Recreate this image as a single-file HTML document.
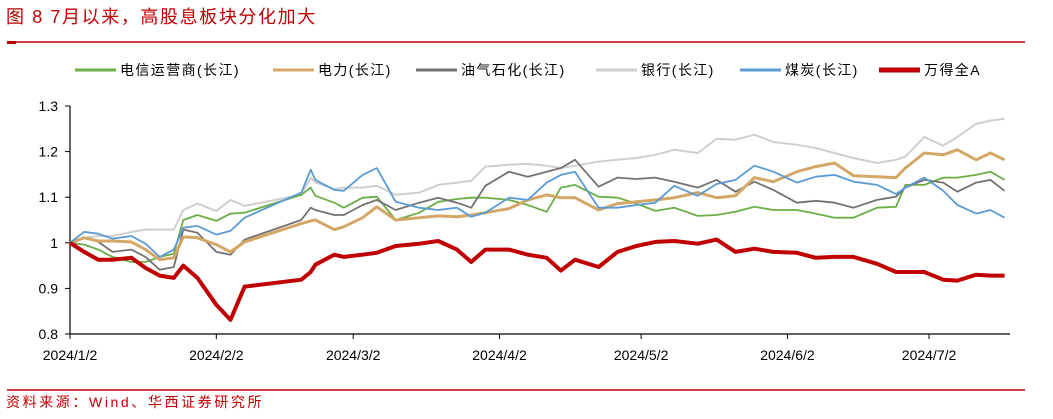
<!DOCTYPE html>
<html><head><meta charset="utf-8">
<style>
body{margin:0;background:#fff;width:1053px;height:414px;overflow:hidden;font-family:"Liberation Sans","Noto Sans CJK SC",sans-serif;}
</style></head>
<body>
<svg id="chart" width="1053" height="414" xmlns="http://www.w3.org/2000/svg" font-family="Liberation Sans, Noto Sans CJK SC, sans-serif">
<text x="6" y="23" font-size="18" letter-spacing="1.6" fill="#c00000">图 8 7月以来，高股息板块分化加大</text>
<line x1="7" y1="42" x2="1025" y2="42" stroke="#c00000" stroke-width="1.5"/>
<rect x="7" y="41" width="9" height="3" fill="#c00000"/>
<g id="legend" font-size="14" fill="#000"></g>
<g id="axes"></g>
<g id="series"></g>
<line x1="7" y1="390" x2="1025" y2="390" stroke="#c00000" stroke-width="1.5"/>
<text x="6" y="407" font-size="14" letter-spacing="2.6" fill="#c00000">资料来源：Wind、华西证券研究所</text>
</svg>
<script>
const days=[0,3,6,9,13,16,19,22,24,27,31,34,37,49,51,52,56,58,62,65,69,74,78,82,85,88,93,97,101,104,107,112,116,120,124,128,133,137,141,145,149,154,158,162,166,171,175,177,181,185,188,192,195,198];
const telecom=[1.000,0.996,0.985,0.969,0.958,0.958,0.969,0.976,1.050,1.061,1.048,1.064,1.066,1.105,1.121,1.103,1.088,1.077,1.099,1.101,1.050,1.066,1.090,1.096,1.099,1.099,1.094,1.083,1.068,1.121,1.127,1.101,1.099,1.086,1.070,1.077,1.059,1.061,1.068,1.079,1.072,1.072,1.064,1.055,1.055,1.077,1.079,1.127,1.127,1.143,1.143,1.149,1.156,1.138];
const power=[1.000,1.011,1.004,1.004,1.002,0.985,0.963,0.967,1.013,1.011,0.996,0.980,1.002,1.042,1.048,1.050,1.029,1.035,1.055,1.079,1.050,1.055,1.059,1.057,1.061,1.066,1.075,1.094,1.105,1.099,1.099,1.072,1.086,1.090,1.094,1.099,1.110,1.099,1.103,1.143,1.134,1.156,1.167,1.175,1.147,1.145,1.143,1.164,1.197,1.193,1.204,1.182,1.197,1.182];
const oil=[1.000,1.011,1.002,0.980,0.985,0.969,0.941,0.947,1.029,1.022,0.980,0.974,1.007,1.050,1.077,1.072,1.061,1.061,1.083,1.094,1.072,1.088,1.099,1.088,1.077,1.125,1.156,1.145,1.156,1.164,1.182,1.123,1.143,1.140,1.143,1.134,1.121,1.138,1.112,1.134,1.116,1.088,1.092,1.088,1.077,1.094,1.101,1.121,1.138,1.132,1.112,1.132,1.138,1.114];
const bank=[1.000,1.011,1.015,1.015,1.024,1.029,1.029,1.029,1.072,1.086,1.070,1.094,1.081,1.105,1.143,1.132,1.118,1.121,1.121,1.125,1.105,1.110,1.127,1.132,1.136,1.167,1.171,1.173,1.169,1.164,1.169,1.178,1.182,1.186,1.193,1.204,1.197,1.228,1.226,1.237,1.221,1.215,1.208,1.197,1.186,1.175,1.182,1.189,1.232,1.213,1.232,1.261,1.268,1.272];
const coal=[1.000,1.024,1.020,1.009,1.015,0.998,0.969,0.985,1.033,1.037,1.018,1.026,1.055,1.110,1.160,1.138,1.116,1.114,1.149,1.164,1.090,1.077,1.072,1.077,1.057,1.066,1.099,1.094,1.132,1.149,1.156,1.077,1.077,1.083,1.088,1.125,1.103,1.129,1.138,1.169,1.156,1.132,1.145,1.149,1.134,1.127,1.107,1.121,1.143,1.114,1.083,1.064,1.072,1.055];
const windA=[1.000,0.980,0.963,0.963,0.967,0.945,0.928,0.923,0.950,0.923,0.864,0.831,0.904,0.919,0.936,0.952,0.974,0.969,0.974,0.978,0.993,0.998,1.004,0.985,0.958,0.985,0.985,0.974,0.967,0.939,0.963,0.947,0.980,0.993,1.002,1.004,0.998,1.007,0.980,0.987,0.980,0.978,0.967,0.969,0.969,0.954,0.936,0.936,0.936,0.919,0.917,0.930,0.928,0.928];
const yTicks=[1.3,1.2,1.1,1,0.9,0.8];
const yTickLabels=["1.3","1.2","1.1","1","0.9","0.8"];
const xTickDays=[0,31,60,91,121,152,182];
const xTickLabels=["2024/1/2","2024/2/2","2024/3/2","2024/4/2","2024/5/2","2024/6/2","2024/7/2"];
const seriesNames=["电信运营商(长江)","电力(长江)","油气石化(长江)","银行(长江)","煤炭(长江)","万得全A"];

const NS="http://www.w3.org/2000/svg";
const X=d=>70+d*4.72;
const Y=v=>334-(v-0.8)*456;
function mk(tag,attrs,parent){const e=document.createElementNS(NS,tag);for(const k in attrs)e.setAttribute(k,attrs[k]);parent.appendChild(e);return e;}
const axes=document.getElementById('axes');
const l1=mk('line',{x1:70,y1:Y(1.3),x2:70,y2:334,stroke:'#000','stroke-width':1.2},axes);


const l2=mk('line',{x1:70,y1:334,x2:1010,y2:334,stroke:'#000','stroke-width':1.2},axes);


yTicks.forEach((v,i)=>{
  const t=mk('line',{x1:65,y1:Y(v),x2:70,y2:Y(v),stroke:'#000'},axes);
  
  
  const tx=mk('text',{x:58,y:Y(v)+5,'text-anchor':'end','font-size':14},axes);
  tx.textContent=yTickLabels[i];
  
  
});
xTickDays.forEach((d,i)=>{
  const t=mk('line',{x1:X(d),y1:334,x2:X(d),y2:339,stroke:'#000'},axes);
  
  
  const tx=mk('text',{x:X(d),y:360,'text-anchor':'middle','font-size':14},axes);
  tx.textContent=xTickLabels[i];
  
  
});
const colors=['#6aaf46','#d4a766','#767171','#cfcfcf','#5b9bd5','#c00000'];
const widths=[1.8,3,1.8,2,1.8,4];
const data=[telecom,power,oil,bank,coal,windA];
const order=[3,0,2,1,4,5];
const sg=document.getElementById('series');
const names=['series-telecom','series-power','series-oil','series-bank','series-coal','series-wind-a'];
order.forEach(i=>{
  const pts=data[i].map((v,j)=>X(days[j]).toFixed(1)+','+Y(v).toFixed(1)).join(' ');
  const p=mk('polyline',{points:pts,fill:'none',stroke:colors[i],'stroke-width':widths[i],'stroke-linejoin':'round'},sg);
  
  
});
const lg=document.getElementById('legend');
const lx=[75,273,416,596,740,879];
seriesNames.forEach((n,i)=>{
  const g=mk('g',{},lg);
  
  
  mk('line',{x1:lx[i],y1:70,x2:lx[i]+41,y2:70,stroke:colors[i],'stroke-width':i==5?5:3},g);
  const t=mk('text',{x:lx[i]+45,y:75,'font-size':14,'letter-spacing':1.4},g);
  t.textContent=n;
});
</script>
</body></html>
